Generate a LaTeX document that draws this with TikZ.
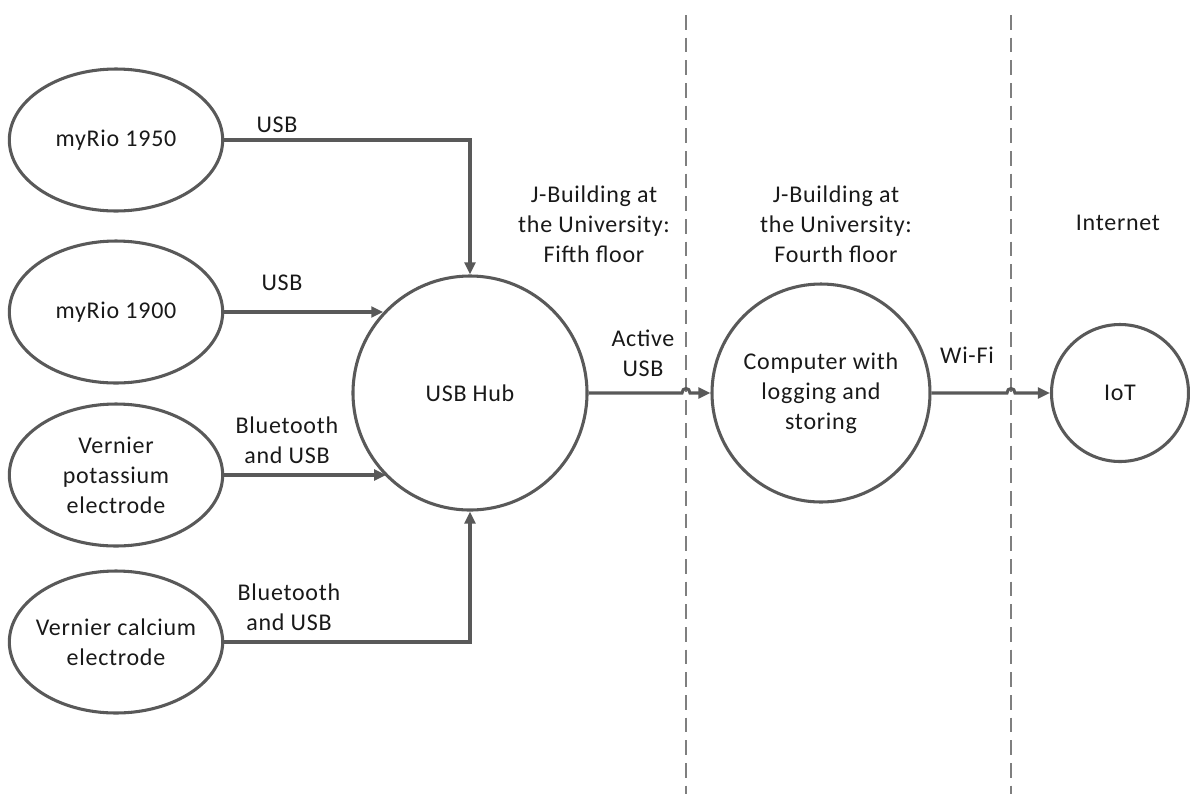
\documentclass[tikz,border=0pt]{standalone}
\usepackage{fontspec}
\setmainfont{Carlito}[LetterSpace=3]
\usepackage{tikz}
\usetikzlibrary{shapes.geometric,arrows.meta}
\definecolor{linegray}{RGB}{89,89,89}
\definecolor{dashgray}{RGB}{127,127,127}
\definecolor{textgray}{RGB}{25,25,25}

\begin{document}
\begin{tikzpicture}[x=0.75pt,y=0.75pt,yscale=-1,xscale=1,
  every node/.style={font=\fontsize{18}{22.5}\selectfont, text=textgray, align=center},
  device/.style={ellipse, draw=linegray, line width=2.3pt, inner xsep=-12pt, inner ysep=0pt, minimum width=160pt, minimum height=106.5pt},
  station/.style={circle, draw=linegray, line width=2.3pt, inner sep=0pt},
  link/.style={draw=linegray, line width=2.3pt, -{Triangle[length=9pt,width=8pt]}},
  divider/.style={draw=dashgray, line width=1.2pt, dash pattern=on 11pt off 6pt},
  lbl/.style={inner sep=0.75pt}]
\useasboundingbox (0,0) rectangle (1190,794);

% Dividers
\coordinate (d1top) at (686,15);
\coordinate (d1bot) at (686,794);
\coordinate (d2top) at (1011,15);
\coordinate (d2bot) at (1011,794);
\draw [divider] (d1top) -- (d1bot);
\draw [divider] (d2top) -- (d2bot);

% Ellipses
\node [device] (rio50) at (116,140) {myRio 1950};
\node [device] (rio00) at (116,312) {myRio 1900};
\node [device] (potas) at (116,475) {Vernier\\potassium\\electrode};
\node [device] (calc) at (116,642) {Vernier calcium\\electrode};

% Circles
\node [station, minimum size=175.5pt] (hub) at (470,393) {USB Hub};
\node [station, minimum size=163.5pt] (pc) at (821,393) {Computer with\\logging and\\storing};
\node [station, minimum size=102.75pt] (iot) at (1120,393) {IoT};

%Straight Lines
\draw [link] (rio50.east) -| (hub.north);
\draw [link] (rio00.east) -- (rio00.east -| hub.137);
\draw [link] (potas.east) -- (potas.east -| hub.225);
\draw [link] (calc.east) -| (hub.south);
\draw [link] (hub.east) -- ([xshift=-3pt]hub.east -| d1top) .. controls +(0,-6) and +(0,-6) .. ([xshift=3pt]hub.east -| d1top) -- (pc.west);
\draw [link] (pc.east) -- ([xshift=-3pt]pc.east -| d2top) .. controls +(0,-6) and +(0,-6) .. ([xshift=3pt]pc.east -| d2top) -- (iot.west);

% Text Node
\node [lbl] (t1) at (277,125) {USB};
% Text Node
\node [lbl] (t2) at (282,283) {USB};
% Text Node
\node [lbl] (t3) at (287,440) {Bluetooth\\and USB};
% Text Node
\node [lbl] (t4) at (289,607) {Bluetooth\\and USB};
% Text Node
\node [lbl] (t5) at (643,353) {Active\\USB};
% Text Node
\node [lbl] (t6) at (967,355) {Wi-Fi};
% Text Node
\node [lbl] (t7) at (594,224) {J-Building at\\the University:\\Fifth floor};
% Text Node
\node [lbl] (t8) at (836,224) {J-Building at\\the University:\\Fourth floor};
% Text Node
\node [lbl] (t9) at (1118,223) {Internet};

\end{tikzpicture}
\end{document}
